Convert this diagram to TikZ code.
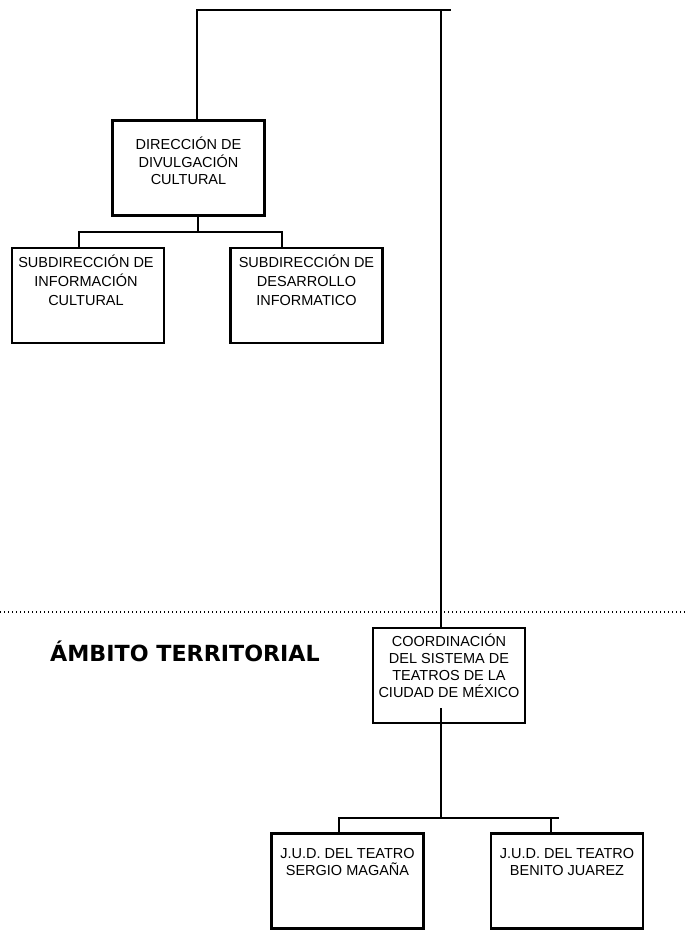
\documentclass[tikz,border=0pt]{standalone}
\usepackage{fontspec}
\setmainfont{Liberation Sans}
\newfontfamily\titlefont{DejaVu Sans}
\begin{document}
\begin{tikzpicture}[x=1pt,y=-1pt,
  orgbox/.style={draw=black,line width=2.6pt,rectangle,inner sep=0pt,minimum width=152pt,minimum height=95pt},
  boxtext/.style={anchor=north,inner sep=0pt,align=center,font=\fontsize{14.5}{17.5}\selectfont,execute at begin node={\rule{0pt}{14pt}}},
  conn/.style={line width=2.6pt,line cap=butt,line join=miter},
  sep/.style={line width=1.6pt,dash pattern=on 1.4pt off 2.6pt}]
\useasboundingbox (0,0) rectangle (686,930);
% boxes
\node[orgbox] (dir) at (188.5,168) {};
\node[orgbox] (sub1) at (88,295.5) {};
\node[orgbox] (sub2) at (306.5,295.5) {};
\node[orgbox] (coord) at (449,675.5) {};
\node[orgbox] (jud1) at (347.5,881) {};
\node[orgbox] (jud2) at (567,881) {};
% texts
\node[boxtext] (dirt) at (188.5,137) {DIRECCIÓN DE\\DIVULGACIÓN\\CULTURAL};
\node[boxtext,font=\fontsize{14.5}{18.7}\selectfont] (sub1t) at (86,255) {SUBDIRECCIÓN DE\\INFORMACIÓN\\CULTURAL};
\node[boxtext,font=\fontsize{14.5}{18.7}\selectfont] (sub2t) at (306.5,255) {SUBDIRECCIÓN DE\\DESARROLLO\\INFORMATICO};
\node[boxtext,font=\fontsize{14.5}{17}\selectfont] (coordt) at (449,634) {COORDINACIÓN\\DEL SISTEMA DE\\TEATROS DE LA\\CIUDAD DE MÉXICO};
\node[boxtext,font=\fontsize{14.5}{16.7}\selectfont] (jud1t) at (347.5,848) {J.U.D. DEL TEATRO\\SERGIO MAGAÑA};
\node[boxtext,font=\fontsize{14.5}{16.7}\selectfont] (jud2t) at (567,848) {J.U.D. DEL TEATRO\\BENITO JUAREZ};
\node[anchor=base west,inner sep=0pt,font=\titlefont\bfseries\fontsize{22.2}{24}\selectfont] (ambito) at (50,661) {ÁMBITO TERRITORIAL};
% separator
\coordinate (sl) at (0,612);
\coordinate (sr) at (686,612);
\draw[sep] (sl) -- (sr);
% top connectors
\coordinate (tl) at (197,10);
\coordinate (tr) at (451,10);
\coordinate (vtop) at (441,10);
\draw[conn] (dir.north -| tl) -- (tl) -- (tr);
\draw[conn] (vtop) -- (vtop |- coord.north);
% direccion to subdirecciones
\coordinate (b1) at (198,232);
\coordinate (bl) at (79,232);
\coordinate (br) at (282,232);
\draw[conn] (dir.south -| b1) -- (b1);
\draw[conn] (bl |- sub1.north) -- (bl) -- (br) -- (br |- sub2.north);
% coordinacion to juds
\coordinate (c1) at (441,708);
\coordinate (c2) at (441,818);
\coordinate (jl) at (339,818);
\coordinate (jr) at (559,818);
\coordinate (jd) at (551,818);
\draw[conn] (c1) -- (c2);
\draw[conn] (jl |- jud1.north) -- (jl) -- (jr);
\draw[conn] (jd) -- (jd |- jud2.north);
\end{tikzpicture}
\end{document}
